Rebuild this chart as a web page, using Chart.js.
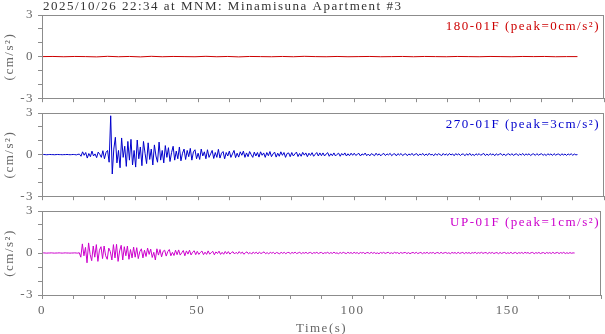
<!DOCTYPE html>
<html>
<head>
<meta charset="utf-8">
<script src="https://cdn.jsdelivr.net/npm/chart.js@4"></script>
<style>
html, body { margin: 0; padding: 0; background: #fff; overflow: hidden; }
#wrap { position: relative; width: 605px; height: 334px; overflow: hidden; }
canvas { position: absolute; left: 0; }
</style>
</head>
<body>
<div id="wrap">
  <canvas id="ch1" style="top:0px" width="605" height="110"></canvas>
  <canvas id="ch2" style="top:98px" width="605" height="110"></canvas>
  <canvas id="ch3" style="top:196px" width="605" height="140"></canvas>
</div>
<script>
// waveform samples (cm/s^2)
const title = "2025/10/26 22:34 at MNM: Minamisuna Apartment #3";
const yTickLabels = [3, 0, -3];
const xTickLabels = [0, 50, 100, 150];

// 180-01F, one sample every 3.5 s
const nsStep = 3.5;
const nsValues = [
  0,0.01,-0.01,0.01,0,-0.02,0.02,-0.01,0.01,-0.02,
  0.02,-0.01,0.01,0,-0.01,0.02,-0.01,0.01,-0.02,0.01,
  0,-0.01,0.01,-0.01,0.02,0,-0.01,0.01,-0.01,0,
  0.01,-0.01,0,0.01,-0.01,0.01,0,-0.01,0.01,0,
  -0.01,0.01,0,-0.01,0.01,0,0.01,-0.01,0,0
];

// 270-01F, one sample every 0.5 s (one row = 10 s)
const ewStep = 0.5;
const ewValues = [
  0,0.01,0,-0.01,0,0.01,0,0,-0.01,0,0.01,0,0,-0.01,0,0,0.01,0,-0.01,0,
  0.01,0,-0.02,0.02,0.03,-0.12,0.2,-0.05,0.15,-0.25,0.08,-0.15,0.25,-0.1,0.05,-0.22,0.18,0.02,-0.2,0.28,
  -0.3,0.15,0.3,-0.55,2.8,-1.4,0.4,1.25,-0.6,0.3,-0.95,1.2,-0.2,0.6,-0.85,0.95,-0.4,1.1,-0.75,0.3,
  -0.9,1.05,-0.3,0.55,-0.8,0.95,0.1,-0.65,0.85,-0.35,0.4,-0.75,0.7,-0.1,-0.55,0.9,-0.4,0.3,-0.6,0.65,
  -0.2,0.5,-0.5,0.15,0.6,-0.4,0.25,-0.3,0.55,-0.45,0.1,0.4,-0.35,0.3,-0.15,0.45,-0.4,0.2,0.35,-0.3,
  0.1,-0.35,0.4,-0.1,0.2,-0.3,0.35,-0.2,0.05,0.3,-0.28,0.15,-0.2,0.38,-0.25,0.1,0.22,-0.3,0.15,-0.1,
  0.25,-0.2,0.05,0.3,-0.22,0.1,-0.18,0.2,-0.05,0.25,-0.2,0.12,-0.15,0.22,0,-0.2,0.18,-0.1,0.15,-0.18,
  0.2,-0.05,0.12,-0.2,0.15,-0.08,0.22,-0.15,0.05,0.18,-0.18,0.1,-0.12,0.2,-0.05,0.15,-0.2,0.08,0.12,-0.15,
  0.15,-0.1,0.05,0.18,-0.14,0.08,-0.12,0.16,-0.04,0.12,-0.15,0.1,-0.06,0.14,-0.12,0.02,0.15,-0.1,0.12,-0.08,
  0.12,-0.1,0.04,0.14,-0.12,0.06,-0.08,0.12,-0.1,0.02,0.1,-0.12,0.08,-0.04,0.12,-0.1,0.06,-0.08,0.1,-0.05,
  0.1,-0.06,0.02,0.09,-0.1,0.05,-0.03,0.11,-0.08,0.04,-0.09,0.07,0,-0.08,0.1,-0.05,0.06,-0.09,0.03,0.08,
  -0.07,0.05,-0.02,0.09,-0.08,0.03,0.06,-0.09,0.07,-0.03,0.08,-0.07,0.02,0.06,-0.08,0.05,-0.04,0.09,-0.06,0.02,
  0.07,-0.08,0.04,-0.02,0.08,-0.07,0.05,-0.06,0.09,-0.03,0.02,-0.08,0.07,-0.05,0.06,0,-0.07,0.08,-0.04,0.05,
  -0.06,0.08,-0.03,0.05,-0.08,0.07,-0.02,0.06,-0.07,0.04,0.03,-0.08,0.06,-0.05,0.09,-0.06,0.02,-0.07,0.06,-0.03,
  0.07,-0.05,0.02,0.08,-0.07,0.04,-0.06,0.07,-0.02,0.05,-0.08,0.06,-0.04,0.03,0.07,-0.06,0.05,-0.07,0.02,0.06,
  -0.05,0.07,-0.06,0.02,0.06,-0.07,0.04,-0.03,0.08,-0.06,0.05,-0.02,0.06,-0.07,0.03,0.05,-0.06,0.07,-0.04,0.02,
  0.06,-0.05,0.03,-0.07,0.06,-0.02,0.05,-0.06,0.07,-0.04,0.02,0.05,-0.07,0.06,-0.03,0.04,-0.06,0.05,-0.02,0.06,
  -0.05,0.04,-0.02,0
];

// UP-01F, one sample every 0.5 s (one row = 10 s)
const udStep = 0.5;
const udValues = [
  0,0.01,0,-0.01,0,0,0.01,0,-0.01,0,0,0.01,0,-0.01,0,0.01,0,0,-0.01,0,
  0,0.01,0,-0.01,0.02,-0.3,0.65,-0.2,0.4,-0.7,0.72,-0.1,-0.55,0.5,-0.3,0.6,-0.6,0.2,0.45,-0.4,
  0.5,-0.2,-0.45,0.35,0.1,-0.5,0.6,-0.35,0.62,-0.6,0.15,0.55,-0.5,0.45,-0.2,0.5,-0.45,0.25,-0.35,0.42,
  -0.3,0.38,-0.4,0.1,0.3,-0.35,0.2,-0.25,0.35,-0.1,0.28,-0.32,0.05,-0.5,0.3,-0.15,0.25,-0.28,0.12,0.2,
  -0.22,0.1,0.25,-0.2,0.05,-0.18,0.2,-0.12,0.22,-0.15,0.02,0.18,-0.2,0.15,-0.08,0.2,-0.14,0.06,0.16,-0.12,
  0.12,-0.1,0.04,0.14,-0.12,0.06,-0.1,0.15,-0.08,0.02,0.12,-0.13,0.08,-0.04,0.13,-0.1,0.05,-0.09,0.11,-0.06,
  0.1,-0.08,0.03,0.09,-0.07,0.05,-0.06,0.1,-0.04,0.07,-0.09,0.02,0.08,-0.06,0.04,-0.08,0.07,-0.03,0.06,-0.07,
  0.07,-0.04,0.02,0.08,-0.05,0.03,-0.07,0.06,-0.02,0.05,-0.06,0.04,0,-0.07,0.06,-0.03,0.05,-0.05,0.03,0.04,
  -0.05,0.04,-0.02,0.06,-0.04,0.01,0.05,-0.05,0.03,-0.02,0.05,-0.04,0.02,0.04,-0.05,0.03,-0.01,0.05,-0.04,0.02,
  0.04,-0.05,0.02,-0.01,0.05,-0.04,0.03,-0.03,0.06,-0.02,0.01,-0.05,0.04,-0.03,0.05,0,-0.04,0.05,-0.02,0.03,
  -0.04,0.05,-0.02,0.03,-0.05,0.04,-0.01,0.04,-0.05,0.02,0.03,-0.04,0.05,-0.03,0.04,-0.04,0.01,-0.05,0.04,-0.02,
  0.05,-0.03,0.01,0.05,-0.04,0.02,-0.04,0.05,-0.01,0.03,-0.05,0.04,-0.02,0.02,0.04,-0.04,0.03,-0.05,0.01,0.04,
  -0.03,0.05,-0.04,0.01,0.04,-0.05,0.03,-0.02,0.05,-0.04,0.03,-0.01,0.04,-0.05,0.02,0.03,-0.04,0.05,-0.03,0.01,
  0.04,-0.03,0.02,-0.05,0.04,-0.01,0.03,-0.04,0.05,-0.03,0.01,0.04,-0.05,0.04,-0.02,0.03,-0.04,0.03,-0.01,0.05,
  -0.04,0.03,-0.02,0.05,-0.03,0.02,0.03,-0.05,0.04,-0.02,0.04,-0.04,0.01,0.03,-0.05,0.04,-0.03,0.02,0.04,-0.04,
  0.02,-0.03,0.05,-0.04,0.01,0.04,-0.05,0.03,-0.02,0.04,-0.04,0.05,-0.01,0.03,-0.04,0.02,0.04,-0.05,0.03,-0.02,
  0.04,-0.04,0.01,0.03,-0.05,0.04,-0.02,0.03,-0.04,0.05,-0.03,0.01,0.04,-0.04,0.03,-0.02,0.05,-0.04,0.02,-0.03,
  0.03,-0.02,0.01,0
];

const serif = '"Liberation Serif", "Times New Roman", serif';
const axisGray = '#8c8c8c';
const textGray = '#666';

// spacing + frame + labels drawn straight on the canvas
const framePlugin = {
  id: 'frame',
  beforeDraw(chart) {
    chart.ctx.letterSpacing = '1.5px';
  },
  afterDraw(chart, args, opts) {
    const ctx = chart.ctx;
    const a = chart.chartArea;
    ctx.save();
    ctx.strokeStyle = axisGray;
    ctx.lineWidth = 1;
    ctx.strokeRect(Math.round(a.left) + 0.5, Math.round(a.top) + 0.5,
      Math.round(a.right - a.left) - 1, Math.round(a.bottom - a.top));
    ctx.font = '13px ' + serif;
    ctx.letterSpacing = '1.5px';
    ctx.textBaseline = 'alphabetic';
    ctx.textAlign = 'right';
    ctx.fillStyle = opts.color;
    ctx.fillText(opts.text, 600, a.top + 15);
    if (opts.title) {
      ctx.textAlign = 'left';
      ctx.fillStyle = '#333';
      ctx.fillText(opts.title, 43, 10);
    }
    ctx.restore();
  }
};

function makePanel(id, step, values, color, label, last, head) {
  const pts = values.map((v, i) => ({ x: i * step, y: v }));
  return new Chart(document.getElementById(id), {
    type: 'line',
    data: {
      datasets: [{
        data: pts,
        borderColor: color,
        borderWidth: 1,
        pointRadius: 0,
        tension: 0,
        fill: false
      }]
    },
    options: {
      responsive: false,
      animation: false,
      events: [],
      layout: { padding: { top: 15, right: 1, left: 0, bottom: 0 } },
      plugins: {
        legend: { display: false },
        tooltip: { enabled: false },
        frame: { text: label, color: color, title: head }
      },
      scales: {
        x: {
          type: 'linear',
          min: 0,
          max: 180,
          ticks: {
            display: last,
            stepSize: 10,
            autoSkip: false,
            maxRotation: 0,
            padding: 4,
            color: textGray,
            font: { family: serif, size: 13 },
            callback: v => xTickLabels.includes(Math.round(v)) ? String(Math.round(v)) : ''
          },
          grid: { drawOnChartArea: false, tickLength: 4, color: axisGray },
          border: { color: axisGray },
          title: {
            display: last,
            text: 'Time(s)',
            color: textGray,
            font: { family: serif, size: 13 },
            padding: 0
          },
          afterFit: s => { s.height = last ? 41 : 11; }
        },
        y: {
          min: -3,
          max: 3,
          ticks: {
            stepSize: 1,
            autoSkip: false,
            padding: 4,
            color: textGray,
            font: { family: serif, size: 13 },
            callback: v => {
              const r = Math.round(v * 1000) / 1000;
              return yTickLabels.includes(r) ? String(Math.abs(r) < 1e-9 ? 0 : r) : '';
            }
          },
          grid: { drawOnChartArea: false, tickLength: 4, color: axisGray },
          border: { color: axisGray },
          title: {
            display: true,
            text: '(cm/s²)',
            color: textGray,
            font: { family: serif, size: 13 },
            padding: { top: 2, bottom: 0 }
          },
          afterFit: s => { s.width = 42; }
        }
      }
    },
    plugins: [framePlugin]
  });
}

makePanel('ch1', nsStep, nsValues, '#cc0000', '180-01F (peak=0cm/s²)', false, title);
makePanel('ch2', ewStep, ewValues, '#0000cc', '270-01F (peak=3cm/s²)', false, null);
makePanel('ch3', udStep, udValues, '#cc00cc', 'UP-01F (peak=1cm/s²)', true, null);
</script>
</body>
</html>
